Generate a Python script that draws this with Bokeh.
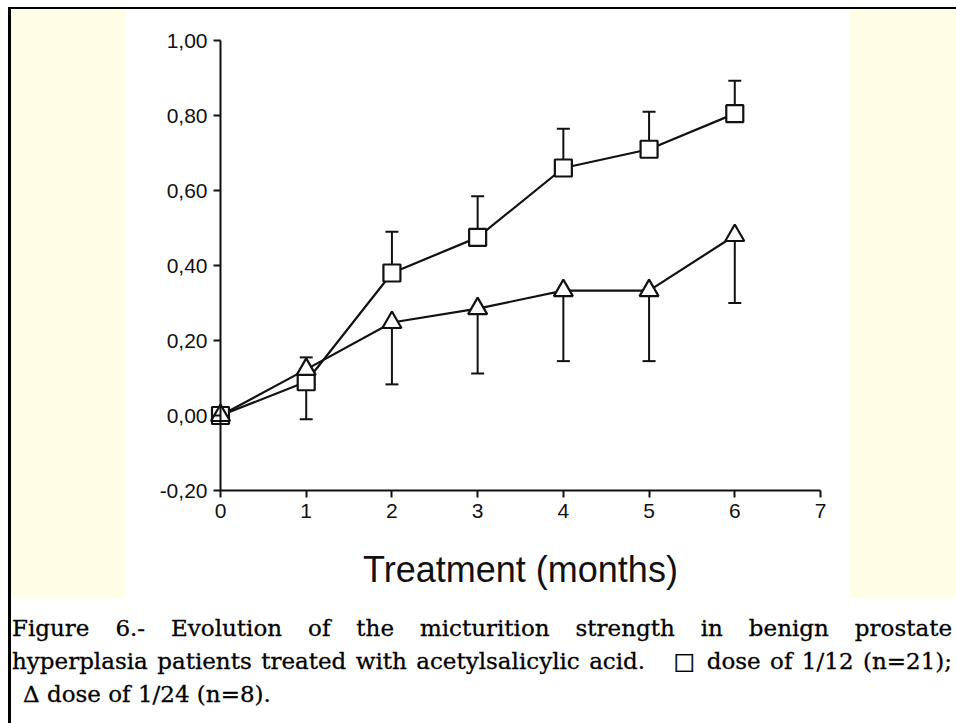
import numpy as np
from bokeh.plotting import figure
from bokeh.models import Range1d, FixedTicker, Spacer, Div
from bokeh.layouts import column, row
from bokeh.embed import file_html
from bokeh.resources import INLINE

# ---------------- data ----------------
months = [0, 1, 2, 3, 4, 5, 6]
dose_12_mean = [0.00, 0.09, 0.38, 0.475, 0.66, 0.71, 0.805]
dose_12_bar_end = [np.nan, -0.01, 0.49, 0.585, 0.765, 0.81, 0.893]
dose_24_mean = [0.00, 0.123, 0.248, 0.285, 0.333, 0.333, 0.48]
dose_24_bar_end = [np.nan, 0.155, 0.083, 0.112, 0.145, 0.145, 0.30]

x_ticks = [0, 1, 2, 3, 4, 5, 6, 7]
x_tick_labels = ["0", "1", "2", "3", "4", "5", "6", "7"]
y_ticks = [-0.2, 0.0, 0.2, 0.4, 0.6, 0.8, 1.0]
y_tick_labels = ["-0,20", "0,00", "0,20", "0,40", "0,60", "0,80", "1,00"]
x_title = "Treatment (months)"
caption_lines = [
    "Figure 6.- Evolution of the micturition strength in benign prostate",
    "hyperplasia patients treated with acetylsalicylic acid.\u00a0\u00a0 \u25a1 dose of 1/12 (n=21);",
    "\u0394 dose of 1/24 (n=8).",
]

# ---------------- layout geometry ----------------
CREAM = "#FFFDE6"
INK = "#111111"
FIG_W, FIG_H = 725, 588
AXIS_X0_PX = 95          # month 0 inside the figure
AXIS_YLOW_PX = 481       # value -0.20 inside the figure
PX_PER_MONTH = 600 / 7
PX_PER_UNIT = 375
x_start = -AXIS_X0_PX / PX_PER_MONTH
x_end = 7 + (FIG_W - (AXIS_X0_PX + 600)) / PX_PER_MONTH
y_start = -0.2 - (FIG_H - AXIS_YLOW_PX) / PX_PER_UNIT
y_end = 1.0 + (AXIS_YLOW_PX - 450) / PX_PER_UNIT

p = figure(width=FIG_W, height=FIG_H, title=None,
           x_range=Range1d(x_start, x_end), y_range=Range1d(y_start, y_end),
           output_backend="svg", toolbar_location=None,
           min_border_left=0, min_border_right=0,
           min_border_top=0, min_border_bottom=0,
           background_fill_color="white", border_fill_color="white",
           outline_line_color=None)
p.grid.visible = False

xa = p.xaxis[0]
xa.ticker = FixedTicker(ticks=x_ticks)
xa.major_label_overrides = {t: l for t, l in zip(x_ticks, x_tick_labels)}
xa.bounds = (0, 7)
xa.fixed_location = -0.2
xa.axis_label = x_title

ya = p.yaxis[0]
ya.ticker = FixedTicker(ticks=y_ticks)
ya.major_label_overrides = {t: l for t, l in zip(y_ticks, y_tick_labels)}
ya.bounds = (-0.2, 1.0)
ya.fixed_location = 0

for ax in (xa, ya):
    ax.axis_line_width = 2
    ax.axis_line_color = INK
    ax.major_tick_line_width = 2
    ax.major_tick_line_color = INK
    ax.major_tick_out = 7
    ax.major_tick_in = 0
    ax.minor_tick_line_color = None
    ax.major_label_text_font = "Liberation Sans"
    ax.major_label_text_font_size = "21px"
    ax.major_label_text_color = INK
    ax.major_label_standoff = 6
xa.axis_label_text_font = "Liberation Sans"
xa.axis_label_text_font_size = "36px"
xa.axis_label_text_font_style = "normal"
xa.axis_label_text_color = INK
xa.axis_label_standoff = 28

m = np.array(months, dtype=float)
for mean, end in ((dose_12_mean, dose_12_bar_end), (dose_24_mean, dose_24_bar_end)):
    mean = np.array(mean, dtype=float)
    end = np.array(end, dtype=float)
    p.segment(x0=m, y0=mean, x1=m, y1=end, line_color=INK, line_width=2)
    p.scatter(m, end, marker="dash", size=13, line_color=INK, line_width=2)

p.line(m, np.array(dose_12_mean), line_color=INK, line_width=2.2)
p.line(m, np.array(dose_24_mean), line_color=INK, line_width=2.2)
p.scatter(m, np.array(dose_12_mean), marker="square", size=17,
          fill_color="white", line_color=INK, line_width=2.2)
p.scatter(m, np.array(dose_24_mean), marker="triangle", size=19,
          fill_color="white", line_color=INK, line_width=2.2)

# ---------------- caption ----------------
cap_html = (
    "<div style=\"font-family:'DejaVu Serif'; font-size:23px; line-height:33px; "
    "color:#000; -webkit-text-stroke:0.3px #000; padding:10px 0 0 0; "
    "margin-left:-4px; width:940px;\">"
    f"<div style='text-align:justify; text-align-last:justify;'>{caption_lines[0]}</div>"
    f"<div style='text-align:justify; text-align-last:justify;'>{caption_lines[1]}</div>"
    f"<div style='padding-left:11px;'>{caption_lines[2]}</div>"
    "</div>"
)
caption = Div(text=cap_html, width=945, height=126)

def block(w, h, color):
    return Spacer(width=w, height=h, styles={"background-color": color})

chart_row = row(block(114, FIG_H, CREAM), p, block(106, FIG_H, CREAM), spacing=0)
content = column(chart_row, caption, spacing=0)
root = column(
    Spacer(width=956, height=7),
    row(Spacer(width=8, height=2), block(948, 2, "#000000"), spacing=0),
    row(Spacer(width=8, height=714), block(3, 714, "#000000"), content, spacing=0),
    spacing=0,
)

open("out.html", "w").write(file_html(root, INLINE))
